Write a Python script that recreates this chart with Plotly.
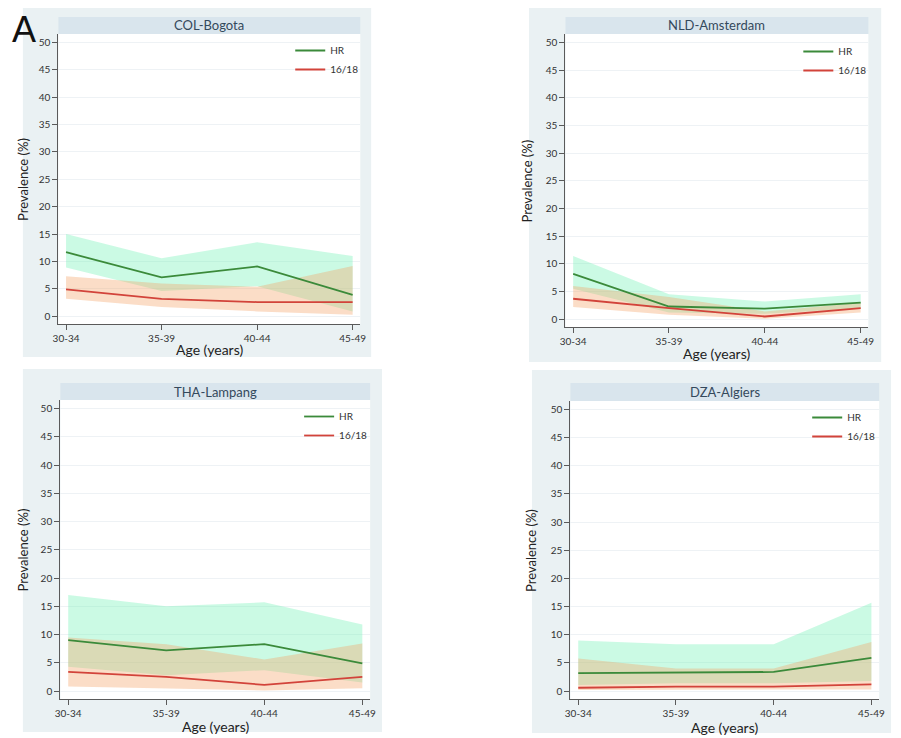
import plotly.graph_objects as go

ages = ["30-34", "35-39", "40-44", "45-49"]
sites = ["COL-Bogota", "NLD-Amsterdam", "THA-Lampang", "DZA-Algiers"]
y_ticks = [0, 5, 10, 15, 20, 25, 30, 35, 40, 45, 50]

# prevalence (%) with lower / upper confidence limits
col_hr = [11.7, 7.1, 9.1, 3.9]
col_hr_lo = [8.9, 4.6, 5.5, 0.9]
col_hr_hi = [15.0, 10.6, 13.5, 11.0]
col_hpv = [4.9, 3.2, 2.6, 2.6]
col_hpv_lo = [3.2, 1.7, 0.9, 0.3]
col_hpv_hi = [7.3, 6.0, 5.4, 9.2]

nld_hr = [8.2, 2.3, 1.9, 3.0]
nld_hr_lo = [5.5, 1.2, 1.0, 2.0]
nld_hr_hi = [11.4, 4.5, 3.2, 4.5]
nld_hpv = [3.7, 2.0, 0.5, 2.0]
nld_hpv_lo = [2.2, 0.8, 0.1, 1.2]
nld_hpv_hi = [6.0, 4.0, 1.4, 3.0]

tha_hr = [9.0, 7.2, 8.3, 4.9]
tha_hr_lo = [4.3, 2.8, 3.7, 1.5]
tha_hr_hi = [17.0, 15.0, 15.7, 11.8]
tha_hpv = [3.4, 2.5, 1.1, 2.5]
tha_hpv_lo = [0.8, 0.4, 0.1, 0.5]
tha_hpv_hi = [9.5, 8.3, 5.6, 8.4]

dza_hr = [3.2, 3.3, 3.4, 5.9]
dza_hr_lo = [1.1, 1.4, 1.4, 1.8]
dza_hr_hi = [9.0, 8.3, 8.3, 15.7]
dza_hpv = [0.6, 0.8, 0.8, 1.2]
dza_hpv_lo = [0.2, 0.3, 0.3, 0.3]
dza_hpv_hi = [5.8, 4.0, 4.0, 8.7]

# the page puts the figure 8px in from the top-left corner
OFF = 8
W, H = 901 - OFF, 738 - OFF
FONT = "Lato"
GREEN = "#3b8a3a"
RED = "#d2433a"
GREEN_FILL = "rgba(110,240,180,0.36)"
RED_FILL = "rgba(245,160,100,0.36)"


def fx(x):
    return max(x - OFF, 0) / W


def fy(y):
    return 1 - max(y - OFF, 0) / H


# page pixel boxes: outer panel, title bar, plot area, legend text (x, y), y-title x, x-title y
geo = [
    dict(bg=(17, 4, 370, 357), bar=(53, 17, 359, 34), plot=(53, 34, 359, 324),
         leg=(325, 50), yt=17, xt=349),
    dict(bg=(530, 4, 887, 362), bar=(567, 17, 874, 34), plot=(567, 34, 874, 327),
         leg=(840, 51), yt=529, xt=354),
    dict(bg=(17, 369, 381, 732), bar=(55, 383, 369, 400), plot=(55, 400, 369, 699),
         leg=(334, 416), yt=17, xt=726),
    dict(bg=(533, 370, 897, 733), bar=(572, 383, 885, 401), plot=(572, 401, 885, 699),
         leg=(849, 417), yt=532, xt=727),
]

series = [
    (col_hr, col_hr_lo, col_hr_hi, col_hpv, col_hpv_lo, col_hpv_hi),
    (nld_hr, nld_hr_lo, nld_hr_hi, nld_hpv, nld_hpv_lo, nld_hpv_hi),
    (tha_hr, tha_hr_lo, tha_hr_hi, tha_hpv, tha_hpv_lo, tha_hpv_hi),
    (dza_hr, dza_hr_lo, dza_hr_hi, dza_hpv, dza_hpv_lo, dza_hpv_hi),
]

fig = go.Figure()
shapes, annotations = [], []

for i, (site, g, s) in enumerate(zip(sites, geo, series)):
    n = "" if i == 0 else str(i + 1)
    xa, ya = "x" + n, "y" + n
    leg = "legend" + n
    hr, hr_lo, hr_hi, hp, hp_lo, hp_hi = s

    fig.add_trace(go.Scatter(x=ages, y=hr_lo, mode="lines", line=dict(width=0),
                             showlegend=False, hoverinfo="skip", xaxis=xa, yaxis=ya))
    fig.add_trace(go.Scatter(x=ages, y=hr_hi, mode="lines", line=dict(width=0),
                             fill="tonexty", fillcolor=GREEN_FILL, showlegend=False,
                             hoverinfo="skip", xaxis=xa, yaxis=ya))
    fig.add_trace(go.Scatter(x=ages, y=hp_lo, mode="lines", line=dict(width=0),
                             showlegend=False, hoverinfo="skip", xaxis=xa, yaxis=ya))
    fig.add_trace(go.Scatter(x=ages, y=hp_hi, mode="lines", line=dict(width=0),
                             fill="tonexty", fillcolor=RED_FILL, showlegend=False,
                             hoverinfo="skip", xaxis=xa, yaxis=ya))
    fig.add_trace(go.Scatter(x=ages, y=hr, mode="lines", name="HR",
                             line=dict(color=GREEN, width=1.8), legend=leg,
                             xaxis=xa, yaxis=ya))
    fig.add_trace(go.Scatter(x=ages, y=hp, mode="lines", name="16/18",
                             line=dict(color=RED, width=1.8), legend=leg,
                             xaxis=xa, yaxis=ya))

    x0, y0, x1, y1 = g["plot"]
    axis_common = dict(showline=True, linecolor="#5a5a5a", linewidth=1.3,
                       ticks="outside", ticklen=5, tickcolor="#5a5a5a",
                       tickfont=dict(size=10, color="#333", family=FONT),
                       zeroline=False)
    fig.update_layout({
        "xaxis" + n: dict(domain=[fx(x0), fx(x1)], anchor=ya, type="category",
                          range=[-0.08, 3.08], showgrid=False, **axis_common),
        "yaxis" + n: dict(domain=[fy(y1), fy(y0)], anchor=xa, range=[-1.4, 51.5],
                          tickvals=y_ticks, showgrid=True, gridcolor="#eef2f5",
                          gridwidth=1, **axis_common),
        leg: dict(x=fx(g["leg"][0] - 37), y=fy(g["leg"][1] - 14), xanchor="left",
                  yanchor="top", traceorder="normal", bgcolor="rgba(0,0,0,0)",
                  font=dict(size=10, color="#333", family=FONT), tracegroupgap=0),
    })

    bx0, by0, bx1, by1 = g["bg"]
    shapes.append(dict(type="rect", xref="paper", yref="paper", layer="below",
                       x0=fx(bx0), x1=fx(bx1), y0=fy(by1), y1=fy(by0),
                       fillcolor="#eaf1f3", line=dict(width=0)))
    shapes.append(dict(type="rect", xref="paper", yref="paper", layer="below",
                       x0=fx(x0), x1=fx(x1), y0=fy(y1), y1=fy(y0),
                       fillcolor="white", line=dict(width=0)))
    tx0, ty0, tx1, ty1 = g["bar"]
    shapes.append(dict(type="rect", xref="paper", yref="paper", layer="below",
                       x0=fx(tx0), x1=fx(tx1), y0=fy(ty1), y1=fy(ty0),
                       fillcolor="#d9e5ed", line=dict(width=0)))
    annotations.append(dict(text=site, xref="paper", yref="paper", showarrow=False,
                            x=fx((tx0 + tx1) / 2), y=fy((ty0 + ty1) / 2),
                            xanchor="center", yanchor="middle",
                            font=dict(size=13, color="#34495c", family=FONT)))
    annotations.append(dict(text="Prevalence (%)", xref="paper", yref="paper",
                            showarrow=False, textangle=-90,
                            x=fx(g["yt"]), y=fy((y0 + y1) / 2),
                            xanchor="center", yanchor="middle",
                            font=dict(size=13, color="#222", family=FONT)))
    annotations.append(dict(text="Age (years)", xref="paper", yref="paper",
                            showarrow=False, x=fx((x0 + x1) / 2), y=fy(g["xt"]),
                            xanchor="center", yanchor="middle",
                            font=dict(size=14, color="#222", family=FONT)))

annotations.append(dict(text="A", xref="paper", yref="paper", showarrow=False,
                        x=0, y=fy(30), xanchor="left", yanchor="middle", xshift=-3,
                        borderpad=0,
                        font=dict(size=36, color="#111", family="Liberation Sans")))

fig.update_layout(
    width=W, height=H,
    margin=dict(l=0, r=0, t=0, b=0),
    paper_bgcolor="white",
    plot_bgcolor="rgba(0,0,0,0)",
    shapes=shapes,
    annotations=annotations,
    font=dict(family=FONT),
)

fig.write_html("out.html")
